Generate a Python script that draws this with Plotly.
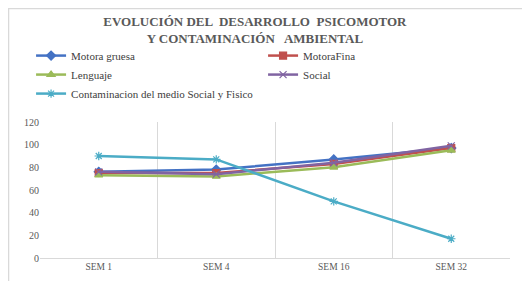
import plotly.graph_objects as go

categories = ["SEM 1", "SEM 4", "SEM 16", "SEM 32"]
motora_gruesa = [76, 78, 87, 97]
motora_fina = [75, 75, 83, 97]
lenguaje = [73, 72, 80, 95]
social = [76, 74, 84, 99]
contaminacion = [90, 87, 50, 17]

series = [
    ("Motora gruesa", motora_gruesa, "#4472C4", "diamond"),
    ("MotoraFina", motora_fina, "#C0504D", "square"),
    ("Lenguaje", lenguaje, "#9BBB59", "triangle-up"),
    ("Social", social, "#8064A2", "x-thin-open"),
    ("Contaminacion del medio Social y Fisico", contaminacion, "#4BACC6", "asterisk-open"),
]

fig = go.Figure()
for name, vals, color, sym in series:
    fig.add_trace(go.Scatter(
        x=categories, y=vals, name=name, mode="lines+markers",
        line=dict(color=color, width=2.5),
        marker=dict(symbol=sym, size=7, color=color, line=dict(color=color, width=1.2)),
    ))

fig.update_layout(
    width=522, height=273,
    margin=dict(l=32, r=20, t=114, b=23, autoexpand=False),
    paper_bgcolor="white", plot_bgcolor="white",
    font=dict(family="Liberation Serif", color="#595959", size=10),
    title=dict(
        text="<b>EVOLUCIÓN DEL  DESARROLLO  PSICOMOTOR<br>Y CONTAMINACIÓN   AMBIENTAL</b>",
        x=0.473, xanchor="center", y=0.935, yanchor="top",
        font=dict(family="Liberation Serif", size=13, color="#595959"),
    ),
    legend=dict(
        orientation="h", x=-0.019, xanchor="left", y=1.595, yanchor="top",
        entrywidth=187, entrywidthmode="pixels",
        bgcolor="rgba(0,0,0,0)",
        font=dict(family="Liberation Serif, serif", size=11, color="#404040"),
        tracegroupgap=0, itemwidth=30,
    ),
    showlegend=True,
)
fig.update_xaxes(
    type="category", tickson="boundaries", showgrid=True, gridcolor="#D9D9D9",
    range=[-0.5, 3.5],
    showline=True, linecolor="#D9D9D9", ticks="", zeroline=False,
    tickfont=dict(size=9.5, color="#595959", family="Liberation Serif"),
)
fig.update_yaxes(
    range=[0, 120], dtick=20, showgrid=False, zeroline=False,
    showline=False, ticks="",
    tickfont=dict(size=10, color="#595959", family="Liberation Serif"),
)
fig.add_shape(type="rect", xref="paper", yref="paper",
              x0=-0.067, x1=1.0277, y0=-0.3, y1=1.834,
              line=dict(color="#D9D9D9", width=1.5))

fig.write_html("out.html")
